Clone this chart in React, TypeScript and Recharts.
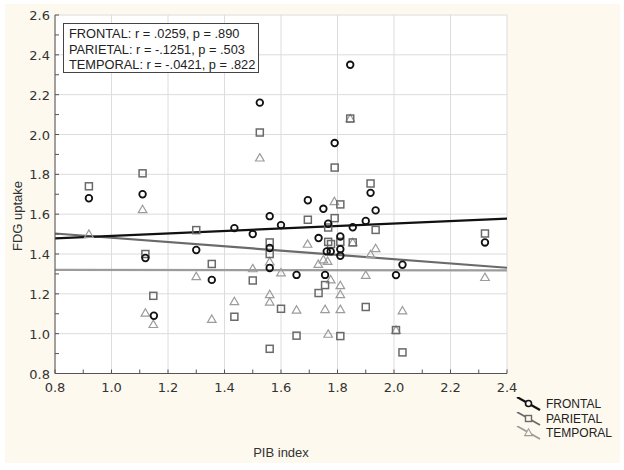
import React from 'react';
import { ScatterChart, Scatter, XAxis, YAxis, CartesianGrid, ReferenceLine, Legend } from 'recharts';

const xTicks = [0.8, 0.9, 1.0, 1.1, 1.2, 1.3, 1.4, 1.5, 1.6, 1.7, 1.8, 1.9, 2.0, 2.1, 2.2, 2.3, 2.4];
const yTicks = [0.8, 0.9, 1.0, 1.1, 1.2, 1.3, 1.4, 1.5, 1.6, 1.7, 1.8, 1.9, 2.0, 2.1, 2.2, 2.3, 2.4, 2.5, 2.6];
const xMajor = [0.8, 1.0, 1.2, 1.4, 1.6, 1.8, 2.0, 2.2, 2.4];
const yMajor = [0.8, 1.0, 1.2, 1.4, 1.6, 1.8, 2.0, 2.2, 2.4, 2.6];

const frontal: [number, number][] = [
  [0.92, 1.68], [1.11, 1.7], [1.12, 1.38], [1.15, 1.09], [1.3, 1.42], [1.355, 1.27], [1.435, 1.53],
  [1.5, 1.5], [1.525, 2.16], [1.56, 1.59], [1.56, 1.43], [1.56, 1.33], [1.6, 1.545], [1.655, 1.295],
  [1.695, 1.67], [1.733, 1.48], [1.75, 1.627], [1.756, 1.295], [1.762, 1.413], [1.767, 1.552],
  [1.776, 1.413], [1.79, 1.957], [1.81, 1.488], [1.81, 1.424], [1.81, 1.391], [1.845, 2.35],
  [1.854, 1.534], [1.9, 1.566], [1.917, 1.707], [1.935, 1.619], [2.007, 1.294], [2.03, 1.346], [2.322, 1.458],
];
const parietal: [number, number][] = [
  [0.92, 1.74], [1.11, 1.805], [1.12, 1.4], [1.148, 1.19], [1.3, 1.52], [1.355, 1.35], [1.435, 1.085],
  [1.5, 1.267], [1.525, 2.01], [1.56, 1.458], [1.56, 1.4], [1.56, 0.924], [1.6, 1.125], [1.655, 0.99],
  [1.695, 1.572], [1.733, 1.204], [1.756, 1.244], [1.767, 1.461], [1.767, 1.533], [1.777, 1.45],
  [1.79, 1.834], [1.79, 1.58], [1.81, 1.649], [1.81, 1.461], [1.81, 0.988], [1.845, 2.08],
  [1.854, 1.458], [1.9, 1.134], [1.917, 1.754], [1.935, 1.521], [2.007, 1.018], [2.03, 0.906], [2.322, 1.503],
];
const temporal: [number, number][] = [
  [0.92, 1.5], [1.11, 1.624], [1.12, 1.104], [1.148, 1.047], [1.3, 1.287], [1.355, 1.073], [1.435, 1.162],
  [1.5, 1.327], [1.525, 1.883], [1.56, 1.361], [1.56, 1.197], [1.56, 1.159], [1.6, 1.306], [1.655, 1.119],
  [1.694, 1.45], [1.732, 1.349], [1.75, 1.372], [1.756, 1.122], [1.765, 1.364], [1.767, 0.998],
  [1.776, 1.271], [1.789, 1.664], [1.81, 1.242], [1.81, 1.197], [1.81, 1.122], [1.845, 2.08],
  [1.854, 1.458], [1.9, 1.294], [1.917, 1.398], [1.935, 1.428], [2.007, 1.018], [2.03, 1.115], [2.322, 1.283],
];

const frontalFit: [number, number][] = [[0.8, 1.478], [2.4, 1.578]];
const parietalFit: [number, number][] = [[0.8, 1.503], [2.4, 1.331]];
const temporalFit: [number, number][] = [[0.8, 1.32], [2.4, 1.318]];

const statLines = ['FRONTAL: r = .0259, p = .890', 'PARIETAL: r = -.1251, p = .503', 'TEMPORAL: r = -.0421, p = .822'];
const seriesNames = ['FRONTAL', 'PARIETAL', 'TEMPORAL'];

const C_F = '#111111';
const C_P = '#6a6a6a';
const C_T = '#9c9c9c';
const AXIS = '#555555';
const FONT = '"Liberation Sans", Arial, sans-serif';

const toPts = (a: [number, number][]) => a.map(([x, y]) => ({ x, y }));
const isMajor = (v: number) => Math.round(v * 10) % 2 === 0;

const BottomTick = (p: any) => {
  const v = p.payload.value;
  return (
    <g>
      <line x1={p.x} y1={p.y} x2={p.x} y2={p.y - 4} stroke={AXIS} />
      {isMajor(v) && (
        <text x={p.x} y={p.y + 18} textAnchor="middle" fontSize={13} fill="#333" fontFamily={'"DejaVu Sans", sans-serif'}>
          {v.toFixed(1)}
        </text>
      )}
    </g>
  );
};
const LeftTick = (p: any) => {
  const v = p.payload.value;
  return (
    <g>
      <line x1={p.x} y1={p.y} x2={p.x + 4} y2={p.y} stroke={AXIS} />
      {isMajor(v) && (
        <text x={p.x - 5} y={p.y + 5} textAnchor="end" fontSize={13} fill="#333" fontFamily={'"DejaVu Sans", sans-serif'}>
          {v.toFixed(1)}
        </text>
      )}
    </g>
  );
};
const TopTick = (p: any) => <line x1={p.x} y1={p.y} x2={p.x} y2={p.y + 4} stroke={AXIS} />;
const RightTick = (p: any) => <line x1={p.x} y1={p.y} x2={p.x - 4} y2={p.y} stroke={AXIS} />;

const CircleShape = (p: any) => <circle cx={p.cx} cy={p.cy} r={3.3} fill="none" stroke={C_F} strokeWidth={1.8} />;
const SquareShape = (p: any) => <rect x={p.cx - 3.5} y={p.cy - 3.5} width={7} height={7} fill="none" stroke={C_P} strokeWidth={1.5} />;
const TriShape = (p: any) => (
  <path d={`M${p.cx},${p.cy - 4.2} L${p.cx + 4.3},${p.cy + 3.2} L${p.cx - 4.3},${p.cy + 3.2} Z`} fill="none" stroke={C_T} strokeWidth={1.2} />
);

const legendColors = [C_F, C_P, C_T];
const LegendContent = () => (
  <div style={{ fontFamily: FONT, fontSize: 12, color: '#222' }}>
    {seriesNames.map((n, i) => (
      <div key={n} style={{ display: 'flex', alignItems: 'center', height: 14.5 }}>
        <svg width={26} height={14} style={{ marginRight: 4 }}>
          <line x1={1} y1={0} x2={24} y2={13} stroke={legendColors[i]} strokeWidth={i === 0 ? 2.2 : 1.8} />
          {i === 0 && <circle cx={12.5} cy={6.5} r={3} fill="#fdf9ef" stroke={C_F} strokeWidth={1.6} />}
          {i === 1 && <rect x={9.5} y={3.5} width={6} height={6} fill="#fdf9ef" stroke={C_P} strokeWidth={1.4} />}
          {i === 2 && <path d="M12.5,2.8 L16.3,9.6 L8.7,9.6 Z" fill="#fdf9ef" stroke={C_T} strokeWidth={1.1} />}
        </svg>
        <span>{n}</span>
      </div>
    ))}
  </div>
);

export default function App() {
  return (
    <div style={{ position: 'absolute', left: 0, top: 0, width: 624, height: 470, background: '#ffffff', overflow: 'hidden' }}>
      <div style={{ position: 'absolute', left: 5, top: 4, width: 615, height: 459, background: '#fdf9ef' }} />
      <div style={{ position: 'absolute', left: 0, top: 0 }}>
        <ScatterChart width={624} height={470} margin={{ top: 15, right: 117, bottom: 0, left: 0 }} style={{ fontFamily: FONT }}>
          <CartesianGrid fill="#ffffff" stroke="#dcdcdc" verticalValues={xMajor} horizontalValues={yMajor} />
          <XAxis
            dataKey="x"
            type="number"
            domain={[0.8, 2.4]}
            ticks={xTicks}
            interval={0}
            height={53}
            tickSize={0}
            tickMargin={0}
            tickLine={false}
            axisLine={{ stroke: AXIS }}
            tick={BottomTick}
            allowDataOverflow
          />
          <XAxis xAxisId="top" orientation="top" type="number" domain={[0.8, 2.4]} ticks={xTicks} interval={0} height={0}
            tickSize={0} tickMargin={0} tickLine={false} axisLine={{ stroke: AXIS }} tick={TopTick} allowDataOverflow />
          <YAxis
            dataKey="y"
            type="number"
            domain={[0.8, 2.6]}
            ticks={yTicks}
            interval={0}
            width={55}
            tickSize={0}
            tickMargin={0}
            tickLine={false}
            axisLine={{ stroke: AXIS }}
            tick={LeftTick}
            allowDataOverflow
          />
          <YAxis yAxisId="right" orientation="right" type="number" domain={[0.8, 2.6]} ticks={yTicks} interval={0} width={0}
            tickSize={0} tickMargin={0} tickLine={false} axisLine={{ stroke: AXIS }} tick={RightTick} allowDataOverflow />
          <ReferenceLine segment={toPts(temporalFit)} stroke={C_T} strokeWidth={2.2} ifOverflow="visible" />
          <ReferenceLine segment={toPts(parietalFit)} stroke={C_P} strokeWidth={2.2} ifOverflow="visible" />
          <ReferenceLine segment={toPts(frontalFit)} stroke={C_F} strokeWidth={2.2} ifOverflow="visible" />
          <Scatter name="TEMPORAL" data={toPts(temporal)} shape={TriShape} isAnimationActive={false} />
          <Scatter name="PARIETAL" data={toPts(parietal)} shape={SquareShape} isAnimationActive={false} />
          <Scatter name="FRONTAL" data={toPts(frontal)} shape={CircleShape} isAnimationActive={false} />
          <Legend content={LegendContent} wrapperStyle={{ position: 'absolute', left: 516, top: 397, width: 110, bottom: 'auto' }} />
        </ScatterChart>
      </div>
      <div
        style={{
          position: 'absolute', left: 63, top: 23, width: 196, height: 50, border: '1px solid #444', background: '#fff',
          fontFamily: FONT, fontSize: 12.8, color: '#222', lineHeight: '15.5px', padding: '2px 0 0 5px', boxSizing: 'border-box',
        }}
      >
        {statLines.map((s) => (
          <div key={s} style={{ whiteSpace: 'nowrap' }}>{s}</div>
        ))}
      </div>
      <div style={{ position: 'absolute', left: 0, top: 445, width: 562, textAlign: 'center', fontFamily: FONT, fontSize: 13, color: '#333' }}>
        PIB index
      </div>
      <div
        style={{
          position: 'absolute', left: 17, top: 216, transform: 'translate(-50%, -50%) rotate(-90deg)', whiteSpace: 'nowrap',
          fontFamily: FONT, fontSize: 13, color: '#333',
        }}
      >
        FDG uptake
      </div>
    </div>
  );
}
